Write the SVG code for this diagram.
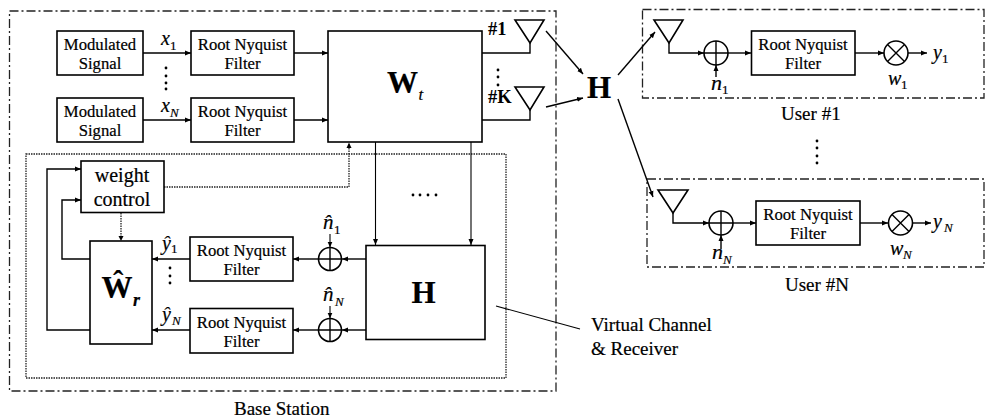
<svg xmlns="http://www.w3.org/2000/svg" width="985" height="420" viewBox="0 0 985 420">
<defs>
<style>
text{font-family:"Liberation Serif","Times New Roman",serif;fill:#000;stroke:#000;stroke-width:.2}
.m{text-anchor:middle}
.f{font-size:16.7px}
.l{font-size:19px}
.i{font-style:italic;font-size:20px}
.s{font-size:13px}
.si{font-style:italic;font-size:13px}
.b{font-weight:bold;font-size:18.5px;stroke-width:0}
.big{font-weight:bold;font-size:31px}
.box{fill:#fff;stroke:#000;stroke-width:1.6}
.dd{fill:none;stroke:#222;stroke-width:1.3;stroke-dasharray:9 3 2 3}
.dot{fill:none;stroke:#222;stroke-width:1.3;stroke-dasharray:1.5 1}
.c{fill:none;stroke:#000;stroke-width:1.4}
.a{fill:none;stroke:#000;stroke-width:1.4;marker-end:url(#ah)}
.thin{fill:none;stroke:#000;stroke-width:1.1}
.sym{fill:#fff;stroke:#000;stroke-width:1.6}
.d{fill:#000}
</style>
<marker id="ah" viewBox="0 0 6 6" refX="6" refY="3" markerWidth="6" markerHeight="6" markerUnits="userSpaceOnUse" orient="auto"><path d="M0 .5L6 3L0 5.500z" fill="#000"/></marker>
</defs>

<g id="containers">
<rect id="base-station" class="dd" x="9.500" y="11" width="546.500" height="380"/>
<rect id="virtual-channel" class="dot" x="26" y="154" width="480" height="224"/>
<rect id="user-1" class="dd" x="642.500" y="9.500" width="341.500" height="88.500"/>
<rect id="user-n" class="dd" x="647" y="179" width="337" height="88"/>
</g>

<g id="connectors">
<path class="a" d="M143 53H191"/>
<path class="a" d="M143 120H191"/>
<path class="a" d="M294 53H328"/>
<path class="a" d="M294 120H328"/>
<path class="c" d="M482 53H530V43"/>
<path class="c" d="M482 120H530V110"/>
<path class="a" d="M546 31L583 74"/>
<path class="a" d="M546 107L583 98"/>
<path class="a" d="M618 75L655 32"/>
<path class="a" d="M618 99L653 197"/>
<path class="a thin" d="M375.500 142V245"/>
<path class="a thin" d="M471 142V245"/>
<path class="dot" d="M164 187H349V144" />
<path d="M346.500 148L349 142.500L351.500 148z" fill="#000"/>
<path class="dot" d="M121 213V237"/>
<path d="M118.500 236L121 241L123.500 236z" fill="#000"/>
<path class="a" d="M90 259H62V200H81"/>
<path class="a" d="M90 330H47V169H81"/>
<path class="a" d="M366 259H342"/>
<path class="a" d="M366 330H342"/>
<path class="a" d="M318 259H293"/>
<path class="a" d="M318 330H293"/>
<path class="a" d="M190 259H152"/>
<path class="a" d="M190 330H152"/>
<path class="a thin" d="M330 234V247.500"/>
<path class="a thin" d="M330 306V318.500"/>
<path class="thin" d="M496 306L580 329"/>
<path class="a" d="M669 43V53H704"/>
<path class="a" d="M728 53H751"/>
<path class="a" d="M855 53H884"/>
<path class="a" d="M908 53H927"/>
<path class="a" d="M716 77V65"/>
<path class="a" d="M673 213V223H709"/>
<path class="a" d="M733 223H756"/>
<path class="a" d="M860 223H888"/>
<path class="a" d="M913 223H931"/>
<path class="a" d="M721 249V235"/>
</g>

<g id="mod-1"><rect class="box" x="57" y="31" width="86" height="44"/><text class="f m" x="100" y="50">Modulated</text><text class="f m" x="100" y="69">Signal</text></g>
<g id="mod-n"><rect class="box" x="57" y="98" width="86" height="44"/><text class="f m" x="100" y="117">Modulated</text><text class="f m" x="100" y="136">Signal</text></g>
<g id="rnf-1"><rect class="box" x="191" y="31" width="103" height="44"/><text class="f m" x="242.500" y="50">Root Nyquist</text><text class="f m" x="242.500" y="69">Filter</text></g>
<g id="rnf-n"><rect class="box" x="191" y="98" width="103" height="44"/><text class="f m" x="242.500" y="117">Root Nyquist</text><text class="f m" x="242.500" y="136">Filter</text></g>
<g id="wt"><rect class="box" x="328" y="31" width="154" height="111"/><text class="big" x="387" y="93">W</text><text x="418.500" y="100" style="font-style:italic;font-size:17px">t</text></g>
<g id="weight-control"><rect class="box" x="81" y="161" width="83" height="51.500"/><text class="m" x="122" y="182" style="font-size:20px">weight</text><text class="m" x="122" y="206" style="font-size:20px">control</text></g>
<g id="wr"><rect class="box" x="90" y="241" width="62" height="103"/><text class="big" x="101.500" y="298">Ŵ</text><text x="133" y="306" style="font-style:italic;font-weight:bold;font-size:18px">r</text></g>
<g id="rnf-r1"><rect class="box" x="190" y="237" width="103" height="44"/><text class="f m" x="241.500" y="256">Root Nyquist</text><text class="f m" x="241.500" y="275">Filter</text></g>
<g id="rnf-rn"><rect class="box" x="190" y="308.500" width="103" height="44.500"/><text class="f m" x="241.500" y="328">Root Nyquist</text><text class="f m" x="241.500" y="347">Filter</text></g>
<g id="h-box"><rect class="box" x="366" y="245.500" width="119" height="94"/><text class="big m" x="423.500" y="303">H</text></g>
<g id="sum-r1"><circle class="sym" cx="330" cy="259" r="11.500"/><path class="c" d="M318.500 259H341.500M330 247.500V270.500"/></g>
<g id="sum-rn"><circle class="sym" cx="330" cy="330" r="11.500"/><path class="c" d="M318.500 330H341.500M330 318.500V341.500"/></g>

<g id="ant-1"><path class="sym" style="fill:none" d="M515 20H544L530 43z"/><text class="b" x="488" y="35">#1</text></g>
<g id="ant-k"><path class="sym" style="fill:none" d="M515 87H544L530 110z"/><text class="b" x="488" y="103">#K</text></g>
<g id="h-channel"><text class="big m" x="599" y="98">H</text></g>

<g id="user1-chain">
<path class="sym" style="fill:none" d="M654 20H683L669 43z"/>
<circle class="sym" cx="716" cy="53" r="12"/><path class="c" d="M704 53H728M716 41V65"/>
<rect class="box" x="751.500" y="31" width="103.500" height="44"/><text class="f m" x="803" y="50">Root Nyquist</text><text class="f m" x="803" y="69">Filter</text>
<circle class="sym" cx="896" cy="53" r="12"/><path class="c" d="M887.500 44.500L904.500 61.500M904.500 44.500L887.500 61.500"/>
</g>
<g id="usern-chain">
<path class="sym" style="fill:none" d="M658 190H688L673 213z"/>
<circle class="sym" cx="721" cy="223" r="12"/><path class="c" d="M709 223H733M721 211V235"/>
<rect class="box" x="756" y="201" width="104" height="44"/><text class="f m" x="808" y="220">Root Nyquist</text><text class="f m" x="808" y="239">Filter</text>
<circle class="sym" cx="900.500" cy="223" r="12"/><path class="c" d="M892 214.500L909 231.500M909 214.500L892 231.500"/>
</g>

<g id="labels">
<text class="i" x="161" y="45">x</text><text class="s" x="170" y="50">1</text>
<text class="i" x="161" y="112">x</text><text class="si" x="170" y="117">N</text>
<text class="i" x="162" y="250">ŷ</text><text class="s" x="171" y="253">1</text>
<text class="i" x="162" y="321">ŷ</text><text class="si" x="172" y="325">N</text>
<text class="i" x="323" y="229" style="font-size:21px">n̂</text><text class="s" x="334" y="234">1</text>
<text class="i" x="323" y="301" style="font-size:21px">n̂</text><text class="si" x="335" y="306">N</text>
<text class="i" x="711" y="90" style="font-size:22px">n</text><text class="s" x="722" y="94">1</text>
<text class="i" x="888" y="85">w</text><text class="s" x="901" y="89">1</text>
<text class="i" x="933" y="59">y</text><text class="s" x="942" y="63">1</text>
<text class="i" x="712" y="259" style="font-size:22px">n</text><text class="si" x="723" y="264">N</text>
<text class="i" x="890" y="255">w</text><text class="si" x="903" y="259">N</text>
<text class="i" x="933" y="228">y</text><text class="si" x="944" y="232">N</text>
<text class="l" x="234" y="415">Base Station</text>
<text class="l" x="591" y="331">Virtual Channel</text>
<text class="l" x="591" y="355">&amp; Receiver</text>
<text class="l" x="781" y="120">User #1</text>
<text class="l" x="785" y="291">User #N</text>
</g>

<g id="ellipses">
<circle class="d" cx="166" cy="68" r="1.400"/><circle class="d" cx="166" cy="76" r="1.400"/><circle class="d" cx="166" cy="83" r="1.400"/><circle class="d" cx="166" cy="89" r="1.400"/>
<circle class="d" cx="170" cy="268" r="1.400"/><circle class="d" cx="170" cy="276" r="1.400"/><circle class="d" cx="170" cy="283" r="1.400"/>
<circle class="d" cx="498" cy="70" r="1.400"/><circle class="d" cx="498" cy="77" r="1.400"/><circle class="d" cx="498" cy="85" r="1.400"/>
<circle class="d" cx="413" cy="195" r="1.400"/><circle class="d" cx="420" cy="195" r="1.400"/><circle class="d" cx="428" cy="195" r="1.400"/><circle class="d" cx="436" cy="195" r="1.400"/>
<circle class="d" cx="817" cy="141" r="1.400"/><circle class="d" cx="817" cy="148" r="1.400"/><circle class="d" cx="817" cy="156" r="1.400"/><circle class="d" cx="817" cy="163" r="1.400"/>
</g>
</svg>
